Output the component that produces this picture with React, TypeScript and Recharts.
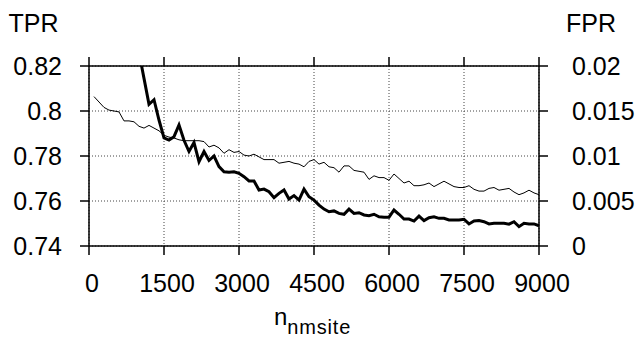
import React from "react";
import { LineChart, Line, XAxis, YAxis, CartesianGrid } from "recharts";

// n_nmsite sample points
const nmsite = [
  100, 200, 300, 400, 500, 600, 700, 800, 900, 1000,
  1100, 1200, 1300, 1400, 1500, 1600, 1700, 1800, 1900, 2000,
  2100, 2200, 2300, 2400, 2500, 2600, 2700, 2800, 2900, 3000,
  3100, 3200, 3300, 3400, 3500, 3600, 3700, 3800, 3900, 4000,
  4100, 4200, 4300, 4400, 4500, 4600, 4700, 4800, 4900, 5000,
  5100, 5200, 5300, 5400, 5500, 5600, 5700, 5800, 5900, 6000,
  6100, 6200, 6300, 6400, 6500, 6600, 6700, 6800, 6900, 7000,
  7100, 7200, 7300, 7400, 7500, 7600, 7700, 7800, 7900, 8000,
  8100, 8200, 8300, 8400, 8500, 8600, 8700, 8800, 8900, 9000,
];

// TPR (thick line, left axis) - nothing before 1000
const tpr = [
  null, null, null, null, null, null, null, null, null, 0.826,
  0.8145, 0.803, 0.805, 0.796, 0.788, 0.7871, 0.7886, 0.7938, 0.787, 0.782,
  0.786, 0.7775, 0.782, 0.778, 0.78, 0.7753, 0.773, 0.7728, 0.773, 0.7723,
  0.7708, 0.7689, 0.7689, 0.7649, 0.7653, 0.7641, 0.7615, 0.7634, 0.7649, 0.7609,
  0.7624, 0.7604, 0.7653, 0.7619, 0.7604, 0.7582, 0.7564, 0.7552, 0.7556, 0.7545,
  0.7541, 0.7564, 0.7545, 0.7548, 0.7538, 0.7535, 0.7541, 0.753, 0.7528, 0.7528,
  0.756, 0.7541, 0.752, 0.752, 0.7511, 0.7533, 0.7513, 0.7526, 0.753, 0.7523,
  0.7523, 0.7516, 0.7516, 0.7516, 0.7519, 0.7498, 0.7511, 0.7513, 0.7508, 0.7498,
  0.7501, 0.7501, 0.7501, 0.7497, 0.7508, 0.7486, 0.7501, 0.7498, 0.7498, 0.749,
];

// FPR (thin line, right axis)
const fpr = [
  0.0166, 0.016, 0.0154, 0.0151, 0.015, 0.0149, 0.0139, 0.0139, 0.0138, 0.0133,
  0.0131, 0.0134, 0.0131, 0.0128, 0.0123, 0.0121, 0.012, 0.0118, 0.0117, 0.0117,
  0.0117, 0.0117, 0.0116, 0.011, 0.0112, 0.0109, 0.0103, 0.0107, 0.0104, 0.0105,
  0.0101, 0.01, 0.0102, 0.0099, 0.0096, 0.0096, 0.0096, 0.0092, 0.0093, 0.0094,
  0.0092, 0.0091, 0.0088, 0.0094, 0.0096, 0.0091, 0.0093, 0.0088, 0.0087, 0.0082,
  0.0089, 0.0089, 0.0084, 0.0083, 0.0082, 0.0074, 0.0078, 0.0076, 0.0076, 0.0073,
  0.008, 0.0075, 0.007, 0.0072, 0.0067, 0.0067, 0.0068, 0.007, 0.0066, 0.0069,
  0.0072, 0.0069, 0.0066, 0.0065, 0.0065, 0.0067, 0.0063, 0.0061, 0.0061, 0.0064,
  0.0065, 0.0062, 0.0063, 0.0064, 0.006, 0.0057, 0.0059, 0.0062, 0.0059, 0.0057,
];

const xTicks = [0, 1500, 3000, 4500, 6000, 7500, 9000];
const tprTicks = [0.74, 0.76, 0.78, 0.8, 0.82];
const fprTicks = [0, 0.005, 0.01, 0.015, 0.02];

const data = nmsite.map((x, i) => ({ x, tpr: tpr[i], fpr: fpr[i] }));

const FONT = "'Liberation Sans', Arial, Helvetica, sans-serif";
const tickStyle = { fontSize: 25, fill: "#000", fontFamily: FONT };
const axisStroke = { stroke: "#000", strokeWidth: 1.5 };

export default function App() {
  return (
    <div style={{ position: "absolute", top: 0, left: 0, width: 640, height: 339, background: "#fff" }}>
      <LineChart width={640} height={339} data={data} margin={{ top: 0, right: 0, bottom: 0, left: 0 }}>
        <CartesianGrid
          yAxisId="tpr"
          stroke="#444"
          strokeDasharray="1 2"
          verticalValues={xTicks}
          horizontalValues={tprTicks}
        />
        <XAxis
          dataKey="x"
          type="number"
          domain={[0, 9000]}
          ticks={xTicks}
          interval={0}
          height={93}
          tickSize={9}
          tickMargin={19}
          tick={{ ...tickStyle, dx: 3 }}
          axisLine={axisStroke}
          tickLine={axisStroke}
          label={{
            content: () => (
              <text x={274} y={325} fontFamily={FONT} fill="#000">
                <tspan fontSize={24}>n</tspan>
                <tspan fontSize={20} dy={9} letterSpacing={0.8}>nmsite</tspan>
              </text>
            ),
          }}
        />
        <XAxis
          xAxisId="top"
          orientation="top"
          dataKey="x"
          type="number"
          domain={[0, 9000]}
          ticks={xTicks}
          interval={0}
          height={66}
          tickSize={9}
          tickFormatter={() => ""}
          axisLine={axisStroke}
          tickLine={axisStroke}
        />
        <YAxis
          yAxisId="tpr"
          orientation="left"
          type="number"
          domain={[0.74, 0.82]}
          ticks={tprTicks}
          interval={0}
          allowDataOverflow
          width={89}
          tickSize={9}
          tickMargin={18}
          tick={tickStyle}
          tickFormatter={(v) => String(v)}
          axisLine={axisStroke}
          tickLine={axisStroke}
          label={{
            content: () => (
              <text x={8.5} y={32} fontSize={25} fontFamily={FONT} fill="#000">
                TPR
              </text>
            ),
          }}
        />
        <YAxis
          yAxisId="fpr"
          orientation="right"
          type="number"
          domain={[0, 0.02]}
          ticks={fprTicks}
          interval={0}
          allowDataOverflow
          width={101}
          tickSize={9}
          tickMargin={24}
          tick={tickStyle}
          tickFormatter={(v) => String(v)}
          axisLine={axisStroke}
          tickLine={axisStroke}
          label={{
            content: () => (
              <text x={566} y={32} fontSize={25} fontFamily={FONT} fill="#000">
                FPR
              </text>
            ),
          }}
        />
        <Line
          yAxisId="fpr"
          dataKey="fpr"
          type="linear"
          stroke="#000"
          strokeWidth={1}
          dot={false}
          isAnimationActive={false}
        />
        <Line
          yAxisId="tpr"
          dataKey="tpr"
          type="linear"
          stroke="#000"
          strokeWidth={3}
          dot={false}
          connectNulls={false}
          isAnimationActive={false}
        />
      </LineChart>
    </div>
  );
}
